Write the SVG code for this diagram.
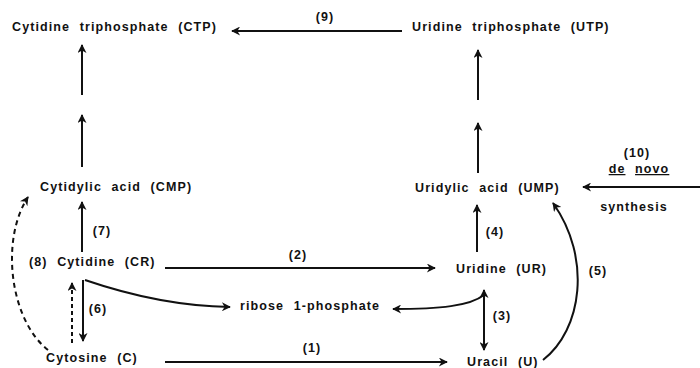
<svg xmlns="http://www.w3.org/2000/svg" width="700" height="368" viewBox="0 0 700 368">
<style>
  text { font-family: "Liberation Sans", Arial, sans-serif; font-weight: bold; font-size: 12.5px; letter-spacing: 1.1px; word-spacing: 5px; fill: #111; }
  .lbl { word-spacing: 0; }
  .c { text-anchor: middle; }
  .ln { fill: none; stroke: #111; stroke-width: 2; }
  .dash { stroke-dasharray: 5 4; }
  .dot { stroke-dasharray: 4 3; }
  .arr { marker-end: url(#ah); }
</style>
<defs>
  <marker id="ah" viewBox="0 0 10 10" refX="9" refY="5" markerWidth="10" markerHeight="9" markerUnits="userSpaceOnUse" orient="auto-start-reverse">
    <path d="M0,0 L10,5 L0,10 L3,5 Z" fill="#111"/>
  </marker>
</defs>
<rect width="700" height="368" fill="#fff"/>

<g id="connectors">
  <path class="ln arr" d="M402,31 L232,31"/>
  <path class="ln arr" d="M82,95 L82,45"/>
  <path class="ln arr" d="M82,167 L82,115"/>
  <path class="ln arr" d="M478,100 L478,50"/>
  <path class="ln arr" d="M478,173 L478,123"/>
  <path class="ln arr" d="M700,187 L583,187"/>
  <path class="ln arr" d="M82,252 L82,202"/>
  <path class="ln arr" d="M477,252 L477,205"/>
  <path class="ln arr" d="M165,268 L435,268"/>
  <path class="ln arr" d="M165,362 L447,362"/>
  <path class="ln arr" d="M83,280 L83,341"/>
  <path class="ln arr" d="M85,280 C120,292 170,306 230,307"/>
  <path class="ln arr" d="M484,295 C470,306 440,309 393,309"/>
  <path class="ln arr" d="M484,290 L484,350" marker-start="url(#ah)"/>
  <path class="ln arr" d="M543,360 C582,330 592,258 553,203"/>
  <path class="ln dash arr" d="M48,350 C10,320 0,240 28,197"/>
  <path class="ln dot arr" d="M72,343 L72,283"/>
</g>

<g id="labels">
  <text class="lbl c" x="325" y="21">(9)</text>
  <text class="lbl c" x="102" y="235">(7)</text>
  <text class="lbl c" x="298" y="259">(2)</text>
  <text class="lbl c" x="98" y="313">(6)</text>
  <text class="lbl c" x="502" y="320">(3)</text>
  <text class="lbl c" x="495" y="236">(4)</text>
  <text class="lbl c" x="598" y="275">(5)</text>
  <text class="lbl c" x="312" y="352">(1)</text>
</g>

<g id="CTP"><text x="12" y="31">Cytidine triphosphate (CTP)</text></g>
<g id="UTP"><text x="412" y="31">Uridine triphosphate (UTP)</text></g>
<g id="CMP"><text x="40" y="191">Cytidylic acid (CMP)</text></g>
<g id="UMP"><text x="415" y="192">Uridylic acid (UMP)</text></g>
<g id="denovo">
  <text class="lbl c" x="637" y="157">(10)</text>
  <text class="c" x="639" y="173"><tspan text-decoration="underline">de</tspan> <tspan text-decoration="underline">novo</tspan></text>
  <text class="c" x="634" y="211">synthesis</text>
</g>
<g id="CR"><text x="29" y="266">(8) Cytidine (CR)</text></g>
<g id="UR"><text x="456" y="273">Uridine (UR)</text></g>
<g id="R1P"><text x="240" y="310">ribose 1-phosphate</text></g>
<g id="C"><text x="46" y="362">Cytosine (C)</text></g>
<g id="U"><text x="467" y="366">Uracil (U)</text></g>
</svg>
